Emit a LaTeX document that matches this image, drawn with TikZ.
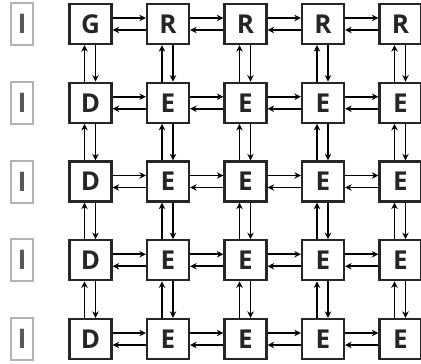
\documentclass[tikz,border=0pt]{standalone}
\usepackage{fontspec}
\setmainfont{Open Sans}
\usetikzlibrary{arrows.meta}
\begin{document}
\begin{tikzpicture}[x=1pt,y=-1pt,
 cell/.style={draw=black!85, line width=2.3pt, minimum width=42pt, minimum height=40pt, inner sep=0pt, font=\fontsize{26}{26}\selectfont\bfseries, text=black!85, fill=white},
 ibox/.style={draw=black!30, line width=2pt, minimum width=22pt, minimum height=42pt, inner sep=0pt, font=\fontsize{27}{27}\selectfont\bfseries, text=black!65},
 arr/.style={line width=1.6pt, -{Stealth[length=6.5pt,width=6.5pt]}}]
\useasboundingbox (0,0) rectangle (421,364);
\foreach \r/\cy in {1/24,2/102.75,3/181.5,4/260.25,5/339}{
  \node[ibox] (i-\r) at (22,\cy) {I};
  \foreach \c/\cx in {1/90.5,2/168,3/245.5,4/323,5/400.5}{
    \ifnum\r=1
      \ifnum\c=1 \def\lab{G}\else\def\lab{R}\fi
    \else
      \ifnum\c=1 \def\lab{D}\else\def\lab{E}\fi
    \fi
    \node[cell] (n-\r-\c) at (\cx,\cy) {\lab};
  }
}
\foreach \r in {1,...,5}{
  \foreach \c [evaluate=\c as \d using int(\c+1)] in {1,...,4}{
    \draw[arr] ([yshift=6pt]n-\r-\c.east) -- ([yshift=6pt]n-\r-\d.west);
    \draw[arr] ([yshift=-6pt]n-\r-\d.west) -- ([yshift=-6pt]n-\r-\c.east);
  }
}
\foreach \r [evaluate=\r as \s using int(\r+1)] in {1,...,4}{
  \foreach \c in {1,...,5}{
    \draw[arr] ([xshift=-6pt]n-\s-\c.north) -- ([xshift=-6pt]n-\r-\c.south);
    \draw[arr] ([xshift=5pt]n-\r-\c.south) -- ([xshift=5pt]n-\s-\c.north);
  }
}
\end{tikzpicture}
\end{document}
